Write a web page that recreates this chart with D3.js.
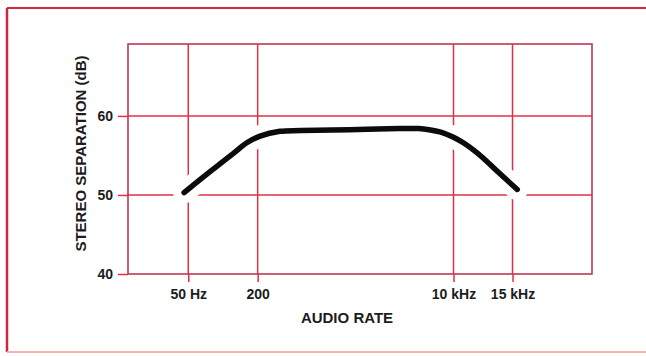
<!DOCTYPE html>
<html>
<head>
<meta charset="utf-8">
<script src="https://cdn.jsdelivr.net/npm/d3@7/dist/d3.min.js"></script>
<style>
  html, body { margin: 0; padding: 0; background: #ffffff; }
  svg { display: block; }
  text { font-family: "Liberation Sans", Arial, Helvetica, sans-serif; font-weight: bold; fill: #1c1c1c; }
</style>
</head>
<body>
<svg id="chart" width="646" height="356"></svg>
<script>
// Stereo separation versus audio frequency
const freqHz = [46, 64, 89, 124, 161, 210, 312, 470, 1250, 3370, 5000, 6135, 7985, 10000, 10700, 11460, 12280, 13460, 15500];
const separationDb = [50.3, 52.0, 53.65, 55.3, 56.6, 57.45, 58.05, 58.15, 58.25, 58.4, 58.4, 58.25, 57.9, 57.3, 56.6, 55.7, 54.65, 53.05, 50.7];

const xTickValues = [50, 200, 10000, 15000];
const xTickLabels = ["50 Hz", "200", "10 kHz", "15 kHz"];
const yTickValues = [40, 50, 60];
const yTickLabels = ["40", "50", "60"];

// Frequency axis: logarithmic, with the top end drawn stretched
const xDomainHz = [15, 10000, 15000, 26000];
const xRangeFrac = [0, 0.7015, 0.8287, 1];
const yDomainDb = [40, 69.1];

const margin = { left: 128, top: 44 };
const width = 464, height = 230;

const gridRed = "#df3047";
const boxRed = "#c23556";

const svg = d3.select("#chart");

// outer frame
svg.append("line").attr("x1", 7).attr("x2", 646).attr("y1", 8).attr("y2", 8)
  .attr("stroke", "#d6283c").attr("stroke-width", 2);
svg.append("line").attr("x1", 7).attr("x2", 7).attr("y1", 8).attr("y2", 352)
  .attr("stroke", "#c62a40").attr("stroke-width", 2.5);
svg.append("line").attr("x1", 7).attr("x2", 646).attr("y1", 352).attr("y2", 352)
  .attr("stroke", "#f2b7b4").attr("stroke-width", 2);

const g = svg.append("g").attr("transform", `translate(${margin.left},${margin.top})`);

const x = d3.scaleLog().domain(xDomainHz).range(xRangeFrac.map(f => f * width));
const y = d3.scaleLinear().domain(yDomainDb).range([height, 0]);

// grid lines
g.append("g").selectAll("line").data(xTickValues).join("line")
  .attr("x1", d => x(d)).attr("x2", d => x(d)).attr("y1", 0).attr("y2", height)
  .attr("stroke", gridRed).attr("stroke-width", 1.5);
g.append("g").selectAll("line").data(yTickValues.filter(v => v > yDomainDb[0])).join("line")
  .attr("x1", 0).attr("x2", width).attr("y1", d => y(d)).attr("y2", d => y(d))
  .attr("stroke", gridRed).attr("stroke-width", 1.5);

// axes (outward ticks and labels)
const xAxis = d3.axisBottom(x).tickValues(xTickValues)
  .tickFormat((d, i) => xTickLabels[i]).tickSizeInner(8).tickSizeOuter(0).tickPadding(7);
const gx = g.append("g").attr("transform", `translate(0,${height})`).call(xAxis);
gx.select(".domain").remove();
gx.selectAll(".tick line").attr("stroke", gridRed).attr("stroke-width", 1.5);
gx.selectAll(".tick text").attr("font-size", 14).attr("fill", "#1c1c1c")
  .attr("font-family", "Liberation Sans, Arial, sans-serif").attr("font-weight", "bold");

const yAxis = d3.axisLeft(y).tickValues(yTickValues)
  .tickFormat((d, i) => yTickLabels[i]).tickSizeInner(10).tickSizeOuter(0).tickPadding(5);
const gy = g.append("g").call(yAxis);
gy.select(".domain").remove();
gy.selectAll(".tick line").attr("stroke", gridRed).attr("stroke-width", 1.5);
gy.selectAll(".tick text").attr("font-size", 14).attr("fill", "#1c1c1c")
  .attr("font-family", "Liberation Sans, Arial, sans-serif").attr("font-weight", "bold");

// plot box
g.append("rect").attr("x", 0).attr("y", 0).attr("width", width).attr("height", height)
  .attr("fill", "none").attr("stroke", boxRed).attr("stroke-width", 1.6);

// response curve: white knockout beneath a heavy black line
const pts = freqHz.map((f, i) => [f, separationDb[i]]);
const line = d3.line().x(d => x(d[0])).y(d => y(d[1])).curve(d3.curveCatmullRom.alpha(0.5));

g.append("path").attr("d", line(pts)).attr("fill", "none")
  .attr("stroke", "#ffffff").attr("stroke-width", 22)
  .attr("stroke-linecap", "round").attr("stroke-linejoin", "round");
g.append("path").attr("d", line(pts)).attr("fill", "none")
  .attr("stroke", "#0b0b0b").attr("stroke-width", 5.5)
  .attr("stroke-linecap", "round").attr("stroke-linejoin", "round");

// axis titles
svg.append("text").attr("x", 347).attr("y", 323).attr("text-anchor", "middle")
  .attr("font-size", 15).text("AUDIO RATE");
svg.append("text").attr("transform", "translate(80.7,153.5) rotate(-90)")
  .attr("text-anchor", "middle").attr("dy", "0.36em")
  .attr("font-size", 15).text("STEREO SEPARATION (dB)");
</script>
</body>
</html>
